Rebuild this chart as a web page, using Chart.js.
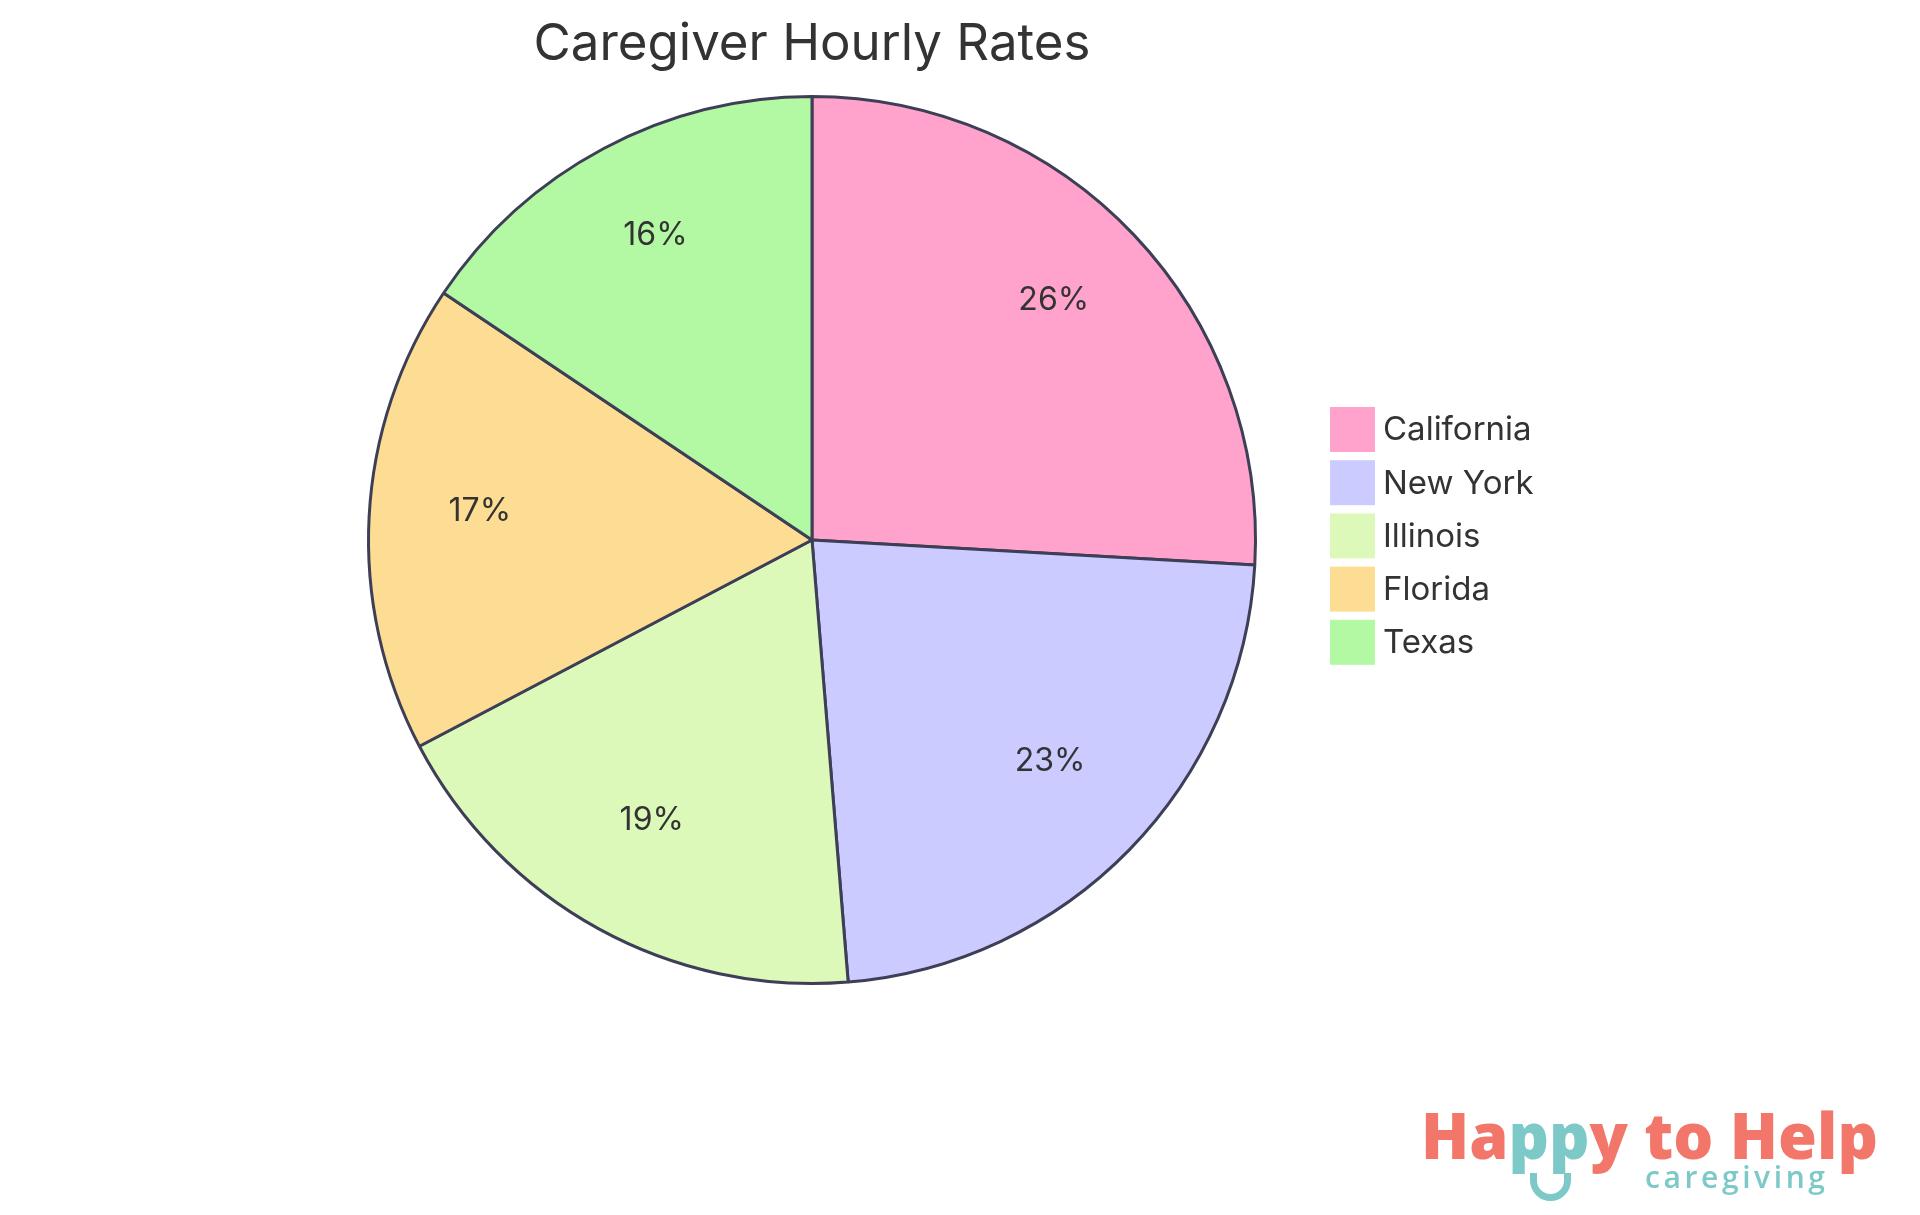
<!DOCTYPE html>
<html>
<head>
<meta charset="utf-8">
<script src="https://cdn.jsdelivr.net/npm/chart.js@4.4.1/dist/chart.umd.min.js"></script>
<style>
  html, body { margin: 0; padding: 0; background: #ffffff; }
  #wrap { position: relative; width: 1920px; height: 1215px; }
  canvas { display: block; }
  #logo { position: absolute; left: 1421px; top: 1098px; width: 470px; height: 115px; font-family: "Open Sans", Lato, sans-serif; }
  #logo .main { position: absolute; left: 0; top: 5px; font-size: 63px; font-weight: 800; line-height: 1; letter-spacing: 0px; color: #F2776A; white-space: nowrap; }
  #logo .teal { color: #7CC9C8; }
  #logo .sub { position: absolute; left: 224px; top: 58px; font-size: 30px; font-weight: 600; letter-spacing: 3.6px; color: #7CC9C8; white-space: nowrap; }
  #logo .smile { position: absolute; left: 109px; top: 75px; width: 27px; height: 21px; border: 7px solid #7CC9C8; border-top: none; border-radius: 0 0 21px 21px; }
</style>
</head>
<body>
<div id="wrap">
  <canvas id="c" width="1920" height="1215"></canvas>
  <div id="logo">
    <div class="main">Ha<span class="teal">pp</span>y to Help</div>
    <div class="smile"></div>
    <div class="sub">caregiving</div>
  </div>
</div>
<script>
const chartTitle = "Caregiver Hourly Rates";
const categories = ["California", "New York", "Illinois", "Florida", "Texas"];
const shareValues = [25.9, 22.8, 18.6, 17.1, 15.6];
const sliceColors = ["#FFA3CC", "#CBCBFF", "#DCF9B9", "#FDDD94", "#B3F8A2"];
const borderColor = "#3D3F57";
const textColor = "#333333";
const fontFamily = "Inter, 'Open Sans', sans-serif";

const titlePlugin = {
  id: "customTitle",
  afterDraw(chart) {
    const ctx = chart.ctx;
    const area = chart.chartArea;
    ctx.save();
    ctx.fillStyle = textColor;
    ctx.font = "400 51px " + fontFamily;
    ctx.textAlign = "center";
    ctx.textBaseline = "middle";
    ctx.fillText(chartTitle, (area.left + area.right) / 2, 44.5);
    ctx.restore();
  }
};

const labelPlugin = {
  id: "sliceLabels",
  afterDatasetsDraw(chart) {
    const ctx = chart.ctx;
    const meta = chart.getDatasetMeta(0);
    const data = chart.data.datasets[0].data;
    const total = data.reduce((a, b) => a + b, 0);
    ctx.save();
    ctx.fillStyle = textColor;
    ctx.font = "400 32px " + fontFamily;
    ctx.textAlign = "center";
    ctx.textBaseline = "middle";
    meta.data.forEach((arc, i) => {
      const p = arc.getProps(["x", "y", "startAngle", "endAngle", "outerRadius"], true);
      const mid = (p.startAngle + p.endAngle) / 2;
      const r = p.outerRadius * 0.75;
      const tx = p.x + Math.cos(mid) * r;
      const ty = p.y + Math.sin(mid) * r - 11;
      ctx.fillText(Math.round(data[i] / total * 100) + "%", tx, ty);
    });
    ctx.restore();
  }
};

const legendPlugin = {
  id: "sideLegend",
  afterDraw(chart) {
    const ctx = chart.ctx;
    const labels = chart.data.labels;
    const colors = chart.data.datasets[0].backgroundColor;
    const boxX = 1330, boxSize = 45, rowH = 53.2, top = 407;
    ctx.save();
    ctx.font = "400 33px " + fontFamily;
    ctx.textBaseline = "middle";
    ctx.textAlign = "left";
    labels.forEach((lab, i) => {
      const y = top + i * rowH;
      ctx.fillStyle = colors[i];
      ctx.fillRect(boxX, y, boxSize, boxSize);
      ctx.fillStyle = textColor;
      ctx.fillText(lab, boxX + 53, y + boxSize / 2 + 1);
    });
    ctx.restore();
  }
};

new Chart(document.getElementById("c"), {
  type: "pie",
  data: {
    labels: categories,
    datasets: [{
      data: shareValues,
      backgroundColor: sliceColors,
      borderColor: borderColor,
      borderWidth: 3,
      hoverOffset: 0
    }]
  },
  options: {
    responsive: false,
    animation: false,
    layout: { padding: { left: 366, right: 662, top: 95, bottom: 230 } },
    plugins: {
      legend: { display: false },
      title: { display: false },
      tooltip: { enabled: false }
    }
  },
  plugins: [titlePlugin, labelPlugin, legendPlugin]
});
</script>
</body>
</html>
